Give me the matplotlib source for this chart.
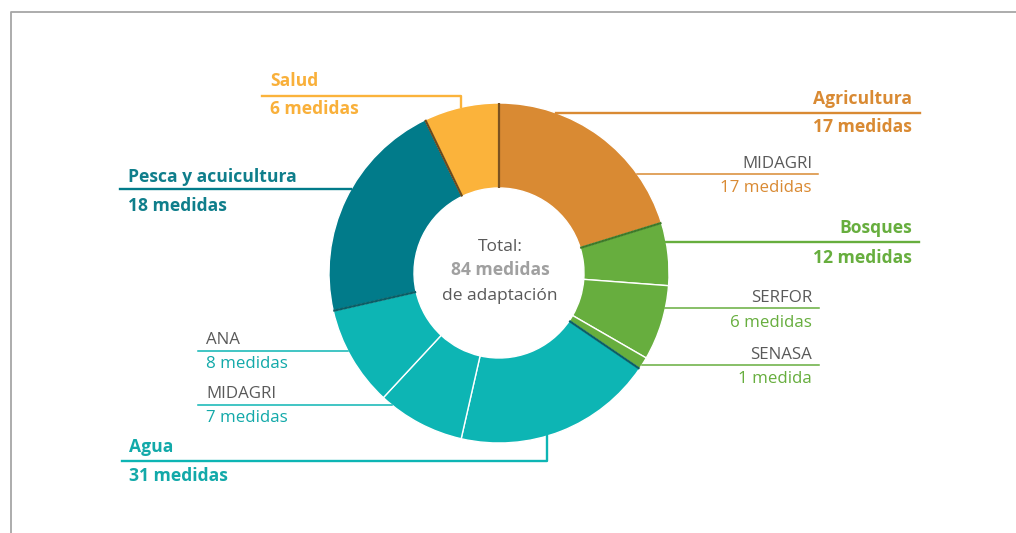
import numpy as np
import matplotlib
matplotlib.use("Agg")
import matplotlib.pyplot as plt

# datos: medidas de adaptación por sector (sentido horario desde arriba)
slice_values = [17, 5, 6, 1, 16, 7, 8, 18, 6]
slice_group = [0, 1, 1, 1, 2, 2, 2, 3, 4]
group_names = ["Agricultura", "Bosques", "Agua", "Pesca y acuicultura", "Salud"]
group_totals = [17, 12, 31, 18, 6]
group_colors = ["#D98A33", "#67AE3E", "#0DB5B4", "#017B8A", "#FBB33B"]
group_text_colors = ["#D98A33", "#67AE3E", "#12A9A9", "#0F7E8B", "#F9B03A"]
# color del borde al inicio de cada grupo
group_edge_colors = ["#7A5220", "#3E7A2A", "#0B5E66", "#0B5E66", "#6B4A1C"]

sub_names = ["MIDAGRI", "SERFOR", "SENASA", "MIDAGRI", "ANA"]
sub_values = [17, 6, 1, 7, 8]
sub_group = [0, 1, 1, 2, 2]

total = sum(slice_values)

plt.rcParams["font.family"] = ["Open Sans", "DejaVu Sans"]

W, H = 1016, 533
fig = plt.figure(figsize=(W / 100, H / 100), dpi=100)
ax = fig.add_axes([0, 0, 1, 1])

cx, cy, R = 499, 273, 170
ring = 0.5

colors = [group_colors[g] for g in slice_group]
ax.pie(slice_values, colors=colors, center=(cx, cy), radius=R,
       startangle=-90, counterclock=True,
       wedgeprops=dict(width=R * ring, edgecolor="white", linewidth=1.0))

ax.set_xlim(0, W)
ax.set_ylim(H, 0)
ax.set_aspect("equal")
ax.axis("off")

# bordes oscuros entre grupos
cum = np.concatenate([[0], np.cumsum(slice_values)])
for i in range(len(slice_values)):
    if i == 0 or slice_group[i] != slice_group[i - 1]:
        th = np.deg2rad(-90 + 360 * cum[i] / total)
        r0, r1 = R * (1 - ring), R
        ax.plot([cx + r0 * np.cos(th), cx + r1 * np.cos(th)],
                [cy + r0 * np.sin(th), cy + r1 * np.sin(th)],
                color=group_edge_colors[slice_group[i]], lw=1.6,
                solid_capstyle="butt")


def edge_x(y, side):
    dy = y - cy
    return cx + side * np.sqrt(max(R ** 2 - dy ** 2, 0))


# marco gris
ax.plot([11, 11, W + 5], [H + 5, 12, 12], color="#A6A6A6", lw=1.3,
        clip_on=False)

FS = 12.2   # texto normal
FSB = 12.6  # texto en negrita
GRAY = "#595959"

# etiquetas de grupo
group_layout = {
    0: dict(side=1, xt=912, yl=113, xe=920, yt1=104, yt2=132),
    1: dict(side=1, xt=912, yl=242, xe=919, yt1=233, yt2=263),
    3: dict(side=-1, xt=128, yl=189, xe=120, yt1=182, yt2=211),
}
for g, lay in group_layout.items():
    c = group_text_colors[g]
    ha = "right" if lay["side"] == 1 else "left"
    ax.plot([edge_x(lay["yl"], lay["side"]), lay["xe"]], [lay["yl"]] * 2,
            color=group_colors[g], lw=1.7)
    ax.text(lay["xt"], lay["yt1"], group_names[g], color=c, ha=ha,
            va="baseline", fontsize=FSB, fontweight="bold")
    ax.text(lay["xt"], lay["yt2"], f"{group_totals[g]} medidas", color=c,
            ha=ha, va="baseline", fontsize=FSB, fontweight="bold")

# Salud (línea con codo hacia abajo)
g = 4
xs = 461
ax.plot([262, xs, xs], [96, 96, cy - np.sqrt(R ** 2 - (xs - cx) ** 2)],
        color=group_colors[g], lw=1.7)
ax.text(270, 86, group_names[g], color=group_text_colors[g], ha="left",
        va="baseline", fontsize=FSB, fontweight="bold")
ax.text(270, 114, f"{group_totals[g]} medidas", color=group_text_colors[g],
        ha="left", va="baseline", fontsize=FSB, fontweight="bold")

# Agua (línea con codo hacia arriba)
g = 2
xa = 547
ax.plot([122, xa, xa], [461, 461, cy + np.sqrt(R ** 2 - (xa - cx) ** 2)],
        color=group_colors[g], lw=1.7)
ax.text(129, 452, group_names[g], color=group_text_colors[g], ha="left",
        va="baseline", fontsize=FSB, fontweight="bold")
ax.text(129, 481, f"{group_totals[g]} medidas", color=group_text_colors[g],
        ha="left", va="baseline", fontsize=FSB, fontweight="bold")

# sub-etiquetas
sub_layout = [
    dict(side=1, xt=812, yl=174, xe=818, yt1=168, yt2=192),
    dict(side=1, xt=812, yl=308, xe=819, yt1=302, yt2=327),
    dict(side=1, xt=812, yl=365, xe=819, yt1=359, yt2=383),
    dict(side=-1, xt=206, yl=405, xe=198, yt1=398, yt2=422),
    dict(side=-1, xt=206, yl=351, xe=198, yt1=344, yt2=368),
]
for name, val, g, lay in zip(sub_names, sub_values, sub_group, sub_layout):
    ha = "right" if lay["side"] == 1 else "left"
    ax.plot([edge_x(lay["yl"], lay["side"]), lay["xe"]], [lay["yl"]] * 2,
            color=group_colors[g], lw=1.1)
    ax.text(lay["xt"], lay["yt1"], name, color=GRAY, ha=ha, va="baseline",
            fontsize=FS)
    unit = "medida" if val == 1 else "medidas"
    ax.text(lay["xt"], lay["yt2"], f"{val} {unit}", color=group_text_colors[g],
            ha=ha, va="baseline", fontsize=FS)

# texto central
ax.text(cx + 1, 251, "Total:", color=GRAY, ha="center", va="baseline",
        fontsize=FS + 0.3)
ax.text(cx + 1, 275, f"{total} medidas", color="#A0A0A0", ha="center",
        va="baseline", fontsize=FSB, fontweight="bold")
ax.text(cx + 1, 300, "de adaptación", color=GRAY, ha="center",
        va="baseline", fontsize=FS + 0.3)

fig.savefig("out.png", dpi=100, facecolor="white")
